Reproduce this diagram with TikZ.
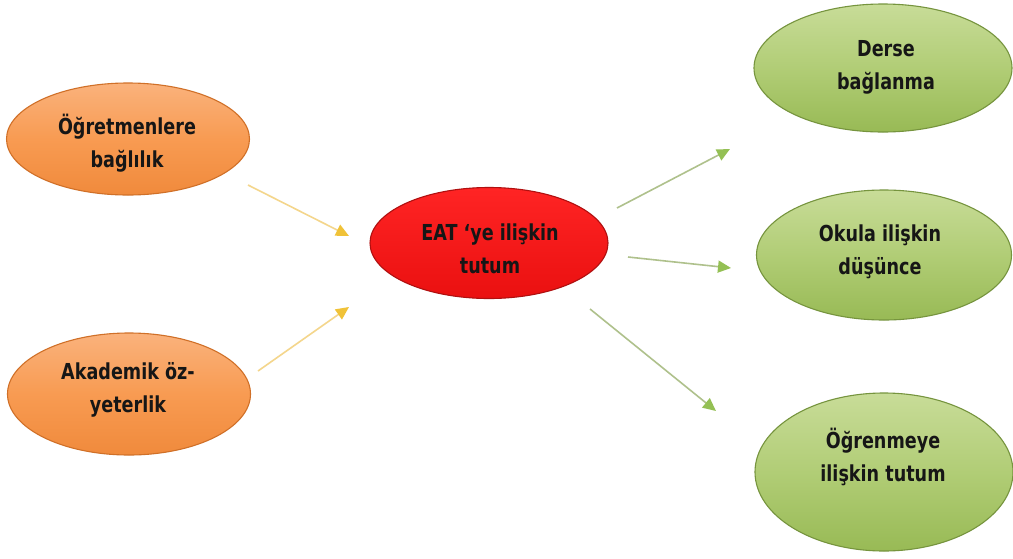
\documentclass[tikz,border=0pt]{standalone}
\usepackage{fontspec}
\newfontfamily\lblfont[FakeStretch=0.8]{DejaVu Sans}
\usetikzlibrary{shapes.geometric,arrows.meta}
\definecolor{txt}{HTML}{161616}
\definecolor{orTop}{HTML}{FAB27C}
\definecolor{orMid}{HTML}{F89B52}
\definecolor{orBot}{HTML}{F08A3C}
\definecolor{orEdge}{HTML}{D07028}
\definecolor{rdTop}{HTML}{FF2424}
\definecolor{rdBot}{HTML}{EA1010}
\definecolor{rdEdge}{HTML}{B01010}
\definecolor{gnTop}{HTML}{C8DC98}
\definecolor{gnMid}{HTML}{B1CD76}
\definecolor{gnBot}{HTML}{98BA55}
\definecolor{gnEdge}{HTML}{76943E}
\definecolor{yelLine}{HTML}{F4D68C}
\definecolor{yelHead}{HTML}{F0C238}
\definecolor{gnLine}{HTML}{AFC18C}
\definecolor{gnHead}{HTML}{94C054}
\tikzset{
  ell/.style={ellipse, inner sep=0pt, line width=1.1pt},
  orell/.style={ell, draw=orEdge, top color=orTop, bottom color=orBot, middle color=orMid},
  rdell/.style={ell, draw=rdEdge, top color=rdTop, bottom color=rdBot},
  gnell/.style={ell, draw=gnEdge, top color=gnTop, bottom color=gnBot, middle color=gnMid},
  lbl/.style={align=center, text=txt, font=\lblfont\bfseries\fontsize{22}{33}\selectfont},
  yarrow/.style={draw=yelLine, line width=1.6pt, -{Triangle[length=13pt,width=12pt,color=yelHead,fill=yelHead]}},
  garrow/.style={draw=gnLine, line width=1.6pt, -{Triangle[length=13pt,width=12pt,color=gnHead,fill=gnHead]}}
}
\begin{document}
\begin{tikzpicture}[x=1pt,y=-1pt]
\useasboundingbox[fill=white] (0,0) rectangle (1013,558);
% ellipses
\node[orell, minimum width=243pt, minimum height=112pt] (o1) at (128,139) {};
\node[orell, minimum width=243pt, minimum height=122pt] (o2) at (129,394) {};
\node[rdell, minimum width=238pt, minimum height=111pt] (rd) at (489,243) {};
\node[gnell, minimum width=258pt, minimum height=128pt] (g1) at (883,68) {};
\node[gnell, minimum width=255pt, minimum height=130pt] (g2) at (884,255) {};
\node[gnell, minimum width=258pt, minimum height=158pt] (g3) at (884,472) {};
% labels
\node[lbl] (t1) at (127,143) {Öğretmenlere\\bağlılık};
\node[lbl] (t2) at (128,390) {Akademik öz-\\yeterlik};
\node[lbl] (t3) at (490,249) {EAT ‘ye ilişkin\\tutum};
\node[lbl] (t4) at (886,67) {Derse\\bağlanma};
\node[lbl] (t5) at (880,252) {Okula ilişkin\\düşünce};
\node[lbl] (t6) at (883,457) {Öğrenmeye\\ilişkin tutum};
% connector ends
\coordinate (a1s) at (248,185); \coordinate (a1e) at (349,236);
\coordinate (a2s) at (258,371); \coordinate (a2e) at (349,307);
\coordinate (a3s) at (617,208); \coordinate (a3e) at (730,149);
\coordinate (a4s) at (628,257); \coordinate (a4e) at (731,268);
\coordinate (a5s) at (590,309); \coordinate (a5e) at (716,411);
\draw[yarrow] (a1s) -- (a1e);
\draw[yarrow] (a2s) -- (a2e);
\draw[garrow] (a3s) -- (a3e);
\draw[garrow] (a4s) -- (a4e);
\draw[garrow] (a5s) -- (a5e);
\end{tikzpicture}
\end{document}
